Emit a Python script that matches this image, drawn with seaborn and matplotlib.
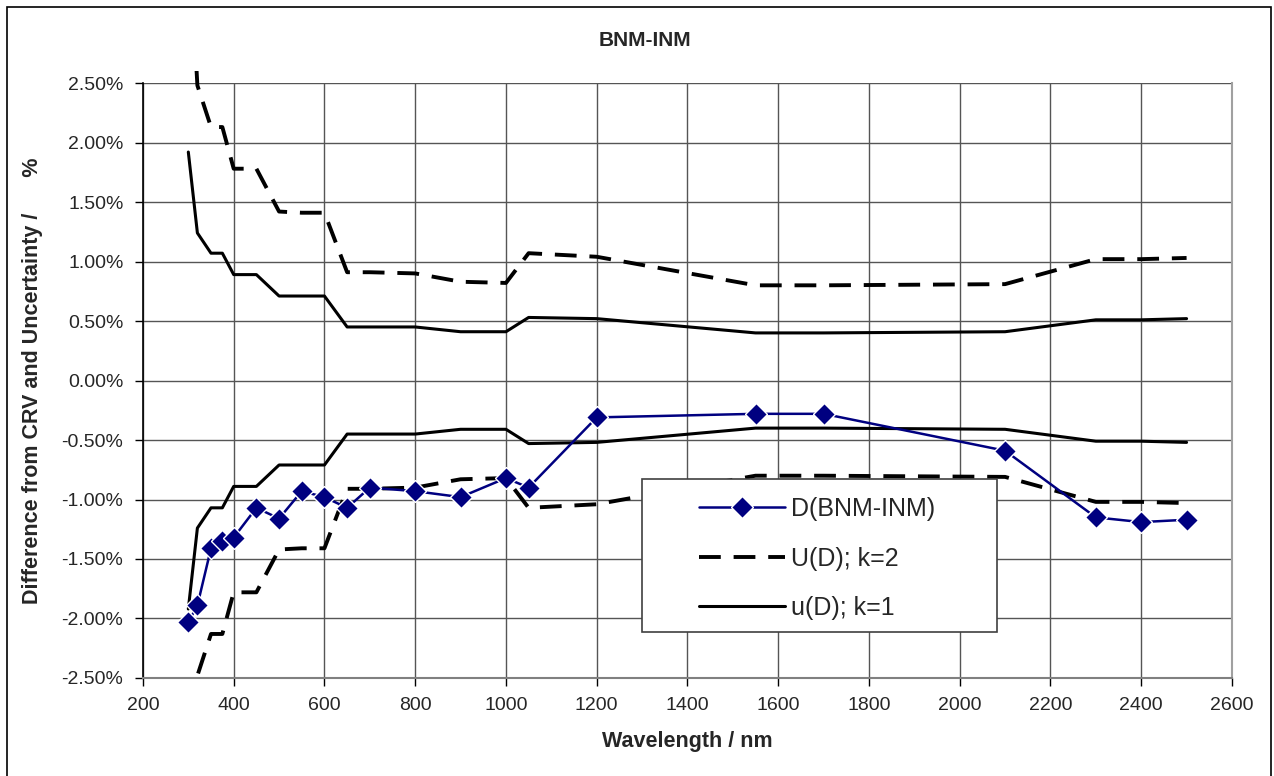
import numpy as np
import pandas as pd
import matplotlib
matplotlib.use("Agg")
import matplotlib.pyplot as plt
import seaborn as sns
from matplotlib.patches import Rectangle
from matplotlib.ticker import FuncFormatter, MultipleLocator

# --- data (values in %) ---
wavelength = [300, 320, 350, 375, 400, 450, 500, 550, 600, 650, 700, 800,
              900, 1000, 1050, 1200, 1550, 1700, 2100, 2300, 2400, 2500]

d_bnm_inm = [-2.03, -1.89, -1.41, -1.35, -1.32, -1.07, -1.16, -0.93, -0.98, -1.07,
             -0.90, -0.93, -0.98, -0.82, -0.90, -0.31, -0.28, -0.28, -0.59, -1.15,
             -1.19, -1.17]

u_k1 = [1.92, 1.24, 1.07, 1.07, 0.89, 0.89, 0.71, 0.71, 0.71, 0.45, 0.45, 0.45,
        0.41, 0.41, 0.53, 0.52, 0.40, 0.40, 0.41, 0.51, 0.51, 0.52]

U_k2 = [3.84, 2.48, 2.13, 2.13, 1.78, 1.78, 1.42, 1.41, 1.41, 0.91, 0.91, 0.90,
        0.83, 0.82, 1.07, 1.04, 0.80, 0.80, 0.81, 1.02, 1.02, 1.03]

df = pd.DataFrame({"wl": wavelength, "D": d_bnm_inm, "u": u_k1, "U": U_k2})
df["u_neg"] = -df["u"]
df["U_neg"] = -df["U"]

sns.set_style("white")
plt.rcParams["font.family"] = ["Liberation Sans", "DejaVu Sans"]

fig = plt.figure(figsize=(12.74, 7.76), dpi=100)
ax = fig.add_axes([0.1122, 0.1263, 0.8548, 0.7667])

navy = "#000080"
dash_style = (0, (5.6, 3.3))

# uncertainty envelopes
sns.lineplot(data=df, x="wl", y="U", ax=ax, color="black", lw=2.8,
             sort=False, estimator=None, label="U(D); k=2")
sns.lineplot(data=df, x="wl", y="U_neg", ax=ax, color="black", lw=2.8,
             sort=False, estimator=None, label="_nolegend_")
sns.lineplot(data=df, x="wl", y="u", ax=ax, color="black", lw=2.2,
             sort=False, estimator=None, label="u(D); k=1")
sns.lineplot(data=df, x="wl", y="u_neg", ax=ax, color="black", lw=2.2,
             sort=False, estimator=None, label="_nolegend_")
for ln in ax.lines[:2]:
    ln.set_linestyle(dash_style)

# difference series
sns.lineplot(data=df, x="wl", y="D", ax=ax, color=navy, lw=1.8,
             marker="D", markersize=11, markerfacecolor=navy,
             markeredgecolor="white", markeredgewidth=1,
             sort=False, estimator=None, label="D(BNM-INM)")

# let lines poke a little past the plot top like the original
clip = Rectangle((0, -0.005), 1, 1.025, transform=ax.transAxes,
                 facecolor="none", edgecolor="none")
ax.add_patch(clip)
for ln in ax.lines:
    ln.set_clip_path(clip)

ax.set_xlim(200, 2600)
ax.set_ylim(-2.5, 2.5)
ax.xaxis.set_major_locator(MultipleLocator(200))
ax.yaxis.set_major_locator(MultipleLocator(0.5))
ax.yaxis.set_major_formatter(FuncFormatter(lambda v, p: f"{v:.2f}%"))

ax.grid(True, color="#555555", lw=1.0)
ax.set_axisbelow(True)
ax.spines["top"].set_visible(False)
ax.spines["left"].set_color("black")
ax.spines["left"].set_linewidth(1.2)
ax.spines["bottom"].set_color("#808080")
ax.spines["right"].set_color("#a0a0a0")
ax.spines["bottom"].set_linewidth(1.5)
ax.spines["right"].set_linewidth(1.5)

ax.tick_params(axis="both", direction="out", length=6, width=1, color="black",
               labelsize=14, pad=8, left=True, bottom=True)

ax.set_xlabel("Wavelength / nm", fontsize=15.5, fontweight="bold", labelpad=12)
ax.set_ylabel("Difference from CRV and Uncertainty /      %", fontsize=15.5,
              fontweight="bold")
ax.yaxis.set_label_coords(-0.092, 0.5)
fig.text(645 / 1274, 1 - 40 / 776, "BNM-INM", fontsize=15, fontweight="bold",
         ha="center", va="center")

# legend: D first, then U, then u  (frame drawn separately, Excel-like padding)
handles, labels = ax.get_legend_handles_labels()
order = [labels.index("D(BNM-INM)"), labels.index("U(D); k=2"), labels.index("u(D); k=1")]
leg = ax.legend([handles[i] for i in order], [labels[i] for i in order],
                loc="upper left", bbox_to_anchor=(0.5106, 0.304), fontsize=18,
                handlelength=3.45, handletextpad=0.25, labelspacing=1.02,
                borderpad=0, borderaxespad=0, frameon=False)
ax.add_patch(Rectangle((0.4582, 0.0773), 0.326, 0.2572, transform=ax.transAxes,
                       facecolor="white", edgecolor="#404040", lw=1.2, zorder=4))
leg.set_zorder(5)

# outer chart border
fig.patches.append(Rectangle((7 / 1274, -0.01), 1264 / 1274, 1 - 7 / 776 + 0.01,
                             transform=fig.transFigure, fill=False,
                             edgecolor="black", lw=1.2))

fig.savefig("out.png", dpi=100)
